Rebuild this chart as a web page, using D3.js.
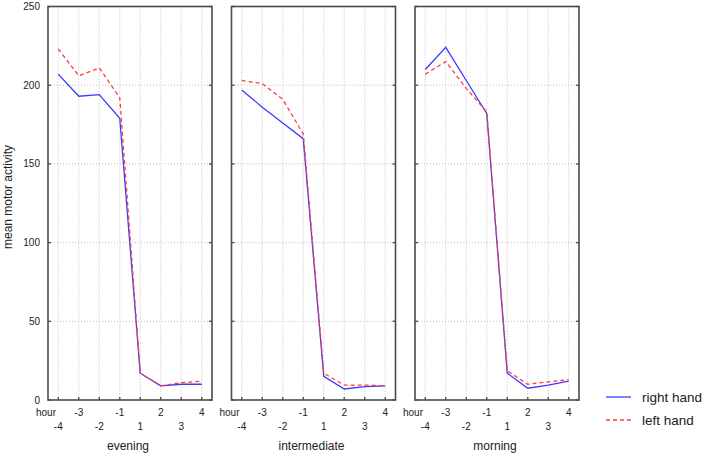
<!DOCTYPE html>
<html>
<head>
<meta charset="utf-8">
<script src="https://cdn.jsdelivr.net/npm/d3@7"></script>
<style>
  html, body { margin: 0; padding: 0; background: #fff; }
  svg { display: block; font-family: "Liberation Sans", Arial, sans-serif; }
</style>
</head>
<body>
<svg id="chart" width="708" height="454"></svg>
<script>
// ---- data ----
const hours = ["-4", "-3", "-2", "-1", "1", "2", "3", "4"];
const panels = ["evening", "intermediate", "morning"];
const eveningRight = [207, 193, 194, 179, 17, 9, 10, 10];
const eveningLeft = [223, 206, 211, 192, 17, 9, 11, 12];
const intermediateRight = [197, 186, 176, 166, 15, 7, 8.5, 9];
const intermediateLeft = [203, 201, 191, 169, 17, 9.5, 9.5, 9];
const morningRight = [210, 224, 203, 182, 17, 7.5, 9.5, 12];
const morningLeft = [207, 215, 198, 183, 18.5, 10, 11.5, 13];
const yTicks = [0, 50, 100, 150, 200, 250];
const seriesNames = ["right hand", "left hand"];

const panelData = [
  { name: panels[0], right: eveningRight, left: eveningLeft },
  { name: panels[1], right: intermediateRight, left: intermediateLeft },
  { name: panels[2], right: morningRight, left: morningLeft }
];

// ---- layout ----
const svg = d3.select("#chart");
const plotTop = 6.5, plotBottom = 400;
const panelLefts = [48, 231.5, 415];
const panelW = 164;
const blue = "#3a3aff", red = "#ff3b3b";
const frameColor = "#4a4a4a";
const textColor = "#222";

const y = d3.scaleLinear().domain([0, 250]).range([plotBottom, plotTop]);

panelData.forEach((p, pi) => {
  const x0 = panelLefts[pi];
  const x = d3.scalePoint().domain(hours).range([x0, x0 + panelW]).padding(0.5);
  const g = svg.append("g");

  // grid
  g.selectAll(".vg").data(hours).enter().append("line")
    .attr("x1", d => x(d)).attr("x2", d => x(d))
    .attr("y1", plotTop).attr("y2", plotBottom)
    .attr("stroke", "#bdbdbd").attr("stroke-width", 1).attr("stroke-dasharray", "1,2");
  g.selectAll(".hg").data(yTicks.slice(1, -1)).enter().append("line")
    .attr("x1", x0).attr("x2", x0 + panelW)
    .attr("y1", d => y(d)).attr("y2", d => y(d))
    .attr("stroke", "#bdbdbd").attr("stroke-width", 1).attr("stroke-dasharray", "1,2");

  // lines
  const line = d3.line().x((d, i) => x(hours[i])).y(d => y(d));
  g.append("path").datum(p.right).attr("d", line)
    .attr("fill", "none").attr("stroke", blue).attr("stroke-width", 1.3);
  g.append("path").datum(p.left).attr("d", line)
    .attr("fill", "none").attr("stroke", red).attr("stroke-width", 1.3)
    .attr("stroke-dasharray", "4,3");

  // frame
  g.append("rect").attr("x", x0).attr("y", plotTop).attr("width", panelW).attr("height", plotBottom - plotTop)
    .attr("fill", "none").attr("stroke", frameColor).attr("stroke-width", 1.6);

  // ticks
  g.selectAll(".xt").data(hours).enter().append("line")
    .attr("x1", d => x(d)).attr("x2", d => x(d))
    .attr("y1", plotBottom).attr("y2", plotBottom - 3)
    .attr("stroke", frameColor).attr("stroke-width", 1.3);
  g.selectAll(".yt").data(yTicks).enter().append("line")
    .attr("x1", x0).attr("x2", x0 + 3)
    .attr("y1", d => y(d)).attr("y2", d => y(d))
    .attr("stroke", frameColor).attr("stroke-width", 1.3);
  g.selectAll(".yt2").data(yTicks).enter().append("line")
    .attr("x1", x0 + panelW).attr("x2", x0 + panelW - 3)
    .attr("y1", d => y(d)).attr("y2", d => y(d))
    .attr("stroke", frameColor).attr("stroke-width", 1.3);

  // x tick labels (alternating rows), "hour" first
  g.append("text").attr("x", x0 - 2).attr("y", 416).attr("text-anchor", "middle")
    .attr("font-size", 10).attr("fill", textColor).text("hour");
  g.selectAll(".xl").data(hours).enter().append("text")
    .attr("x", d => x(d))
    .attr("y", (d, i) => i % 2 === 0 ? 430 : 416)
    .attr("text-anchor", "middle").attr("font-size", 10).attr("fill", textColor)
    .text(d => d);

  // panel title
  g.append("text").attr("x", x0 + panelW / 2 - 2).attr("y", 450)
    .attr("text-anchor", "middle").attr("font-size", 12).attr("fill", textColor)
    .text(p.name);
});

// y axis labels
svg.selectAll(".yl").data(yTicks).enter().append("text")
  .attr("x", 40).attr("y", d => y(d)).attr("dy", "0.35em")
  .attr("text-anchor", "end").attr("font-size", 10).attr("fill", textColor)
  .text(d => d);

svg.append("text")
  .attr("transform", "translate(12,197) rotate(-90)")
  .attr("text-anchor", "middle").attr("font-size", 12).attr("fill", textColor)
  .text("mean motor activity");

// legend
const legend = svg.append("g");
const legY = [397, 420];
legend.selectAll("line").data(seriesNames).enter().append("line")
  .attr("x1", 606).attr("x2", 631)
  .attr("y1", (d, i) => legY[i]).attr("y2", (d, i) => legY[i])
  .attr("stroke", (d, i) => i === 0 ? blue : red)
  .attr("stroke-width", 1.3)
  .attr("stroke-dasharray", (d, i) => i === 0 ? null : "4,3");
legend.selectAll("text").data(seriesNames).enter().append("text")
  .attr("x", 642).attr("y", (d, i) => legY[i]).attr("dy", "0.35em")
  .attr("font-size", 13.5).attr("fill", textColor)
  .text(d => d);
</script>
</body>
</html>
